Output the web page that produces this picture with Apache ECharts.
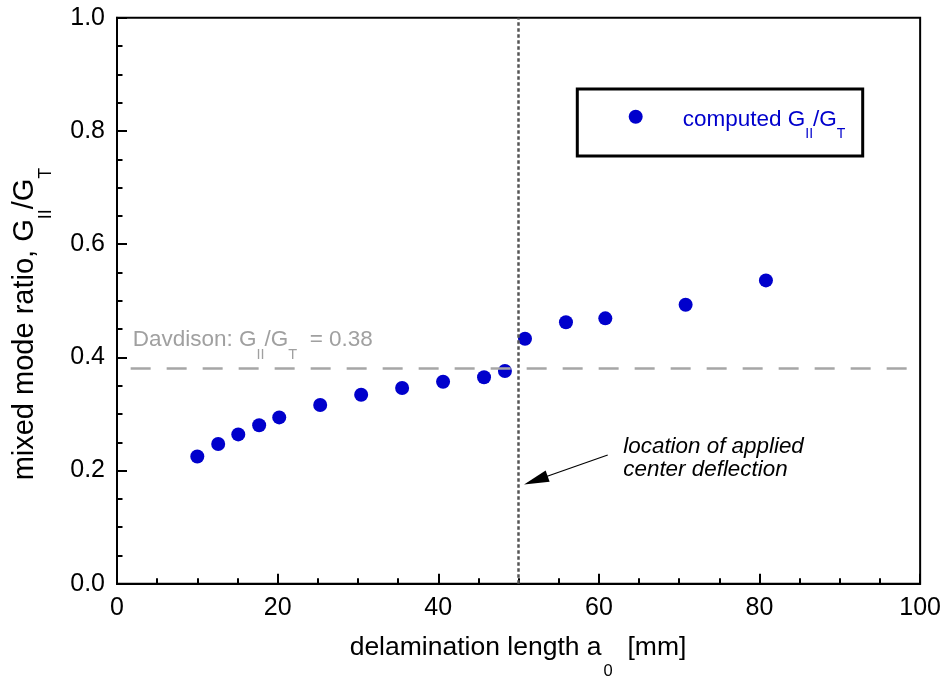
<!DOCTYPE html>
<html><head><meta charset="utf-8">
<script src="https://cdn.jsdelivr.net/npm/echarts@6/dist/echarts.min.js"></script>
<style>html,body{margin:0;padding:0;background:#fff}#c{width:944px;height:678px}</style>
</head><body><div id="c"></div>
<script>
// ---- data ----
const delaminationLength = [10.0, 12.6, 15.1, 17.7, 20.2, 25.3, 30.4, 35.5, 40.6, 45.7, 48.3, 50.8, 55.9, 60.8, 70.8, 80.8];
const modeRatio = [0.225, 0.247, 0.264, 0.280, 0.294, 0.316, 0.334, 0.346, 0.357, 0.365, 0.376, 0.433, 0.462, 0.469, 0.493, 0.536];
const davidsonRatio = 0.38;
const davidsonStartX = 1.7;
const appliedDeflectionX = 50;
const arrowStart = [61.1, 0.2276];
const arrowTip = [52.15, 0.1829];
const seriesName = 'computed';

const FONT = "'Liberation Sans', Arial, Helvetica, sans-serif";
const BLUE = '#0000CC';

const chart = echarts.init(document.getElementById('c'));
const points = delaminationLength.map((x, i) => [x, modeRatio[i]]);

const axisCommon = {
  type: 'value',
  axisLine: { show: true, lineStyle: { color: '#000', width: 2 } },
  axisTick: { show: true, inside: true, length: 10, lineStyle: { color: '#000', width: 2 } },
  minorTick: { show: true, splitNumber: 4, length: 5.5, lineStyle: { color: '#000', width: 2 } },
  splitLine: { show: false },
  minorSplitLine: { show: false },
  axisLabel: { fontSize: 25, color: '#000', fontFamily: FONT, margin: 12 }
};

chart.setOption({
  animation: false,
  backgroundColor: '#fff',
  grid: { left: 117, right: 22.5, top: 17.8, bottom: 94.2, show: true, borderColor: '#000', borderWidth: 2, backgroundColor: 'transparent' },
  xAxis: Object.assign({}, axisCommon, { min: 0, max: 100, interval: 20 }),
  yAxis: Object.assign({}, axisCommon, { min: 0, max: 1, interval: 0.2,
    axisLabel: Object.assign({}, axisCommon.axisLabel, { margin: 12, formatter: v => v.toFixed(1) }) }),
  series: [
    {
      type: 'line', name: 'refs', data: [], z: 1, silent: true,
      markLine: {
        silent: true, animation: false, symbol: ['none', 'none'], label: { show: false },
        data: [
          [{ coord: [davidsonStartX, davidsonRatio] }, { coord: [100, davidsonRatio] ,
            lineStyle: { color: '#a6a6a6', width: 2.5, type: [20, 16] } }],
          [{ xAxis: appliedDeflectionX, yAxis: 0 }, { xAxis: appliedDeflectionX, yAxis: 1,
            lineStyle: { color: '#555', width: 2.5, type: [3.5, 2.5] } }],
          [{ coord: arrowStart, symbol: 'none' }, { coord: arrowTip, symbol: 'triangle', symbolSize: [12, 25],
            lineStyle: { color: '#000', width: 1.2, type: 'solid' }, itemStyle: { color: '#000' } }]
        ]
      }
    },
    {
      type: 'scatter', name: seriesName, data: points, z: 3,
      symbol: 'circle', symbolSize: 14, itemStyle: { color: BLUE, opacity: 1 }
    }
  ],
  graphic: [
    { type: 'rect', z: 10, shape: { x: 577.3, y: 89, width: 285.4, height: 67 },
      style: { fill: '#fff', stroke: '#000', lineWidth: 3 } },
    { type: 'circle', z: 11, shape: { cx: 635.7, cy: 116.7, r: 7 }, style: { fill: BLUE } },
    { type: 'text', z: 11, x: 682.7, y: 120,
      style: { text: 'computed G{s|II}/G{s|T}', fontFamily: FONT, fontSize: 22.5, fill: BLUE,
        align: 'left', verticalAlign: 'middle',
        rich: { s: { fontFamily: FONT, fontSize: 14, fill: BLUE, padding: [29, 0, 0, 0] } } } },
    { type: 'text', z: 10, x: 518, y: 648,
      style: { text: 'delamination length a{s|0}  [mm]', fontFamily: FONT, fontSize: 26.5, fill: '#000',
        align: 'center', verticalAlign: 'middle',
        rich: { s: { fontFamily: FONT, fontSize: 16.5, fill: '#000', padding: [47, 0, 0, 2] } } } },
    { type: 'text', z: 10, x: 25, y: 324, rotation: Math.PI / 2,
      style: { text: 'mixed mode ratio, G{s|II}/G{s|T}', fontFamily: FONT, fontSize: 29, fill: '#000',
        align: 'center', verticalAlign: 'middle',
        rich: { s: { fontFamily: FONT, fontSize: 18, fill: '#000', padding: [42, 0, 0, 0] } } } },
    { type: 'text', z: 10, x: 132.7, y: 339.3,
      style: { text: 'Davdison: G{s|II}/G{s|T}  = 0.38', fontFamily: FONT, fontSize: 22.5, fill: '#a0a0a0',
        align: 'left', verticalAlign: 'middle',
        rich: { s: { fontFamily: FONT, fontSize: 14.5, fill: '#a0a0a0', padding: [31, 0, 0, 0] } } } },
    { type: 'text', z: 10, x: 623.3, y: 435.3,
      style: { text: 'location of applied\ncenter deflection', fontFamily: FONT, fontSize: 22.4, fontStyle: 'italic',
        lineHeight: 22.7, fill: '#000', align: 'left', verticalAlign: 'top' } }
  ]
});
</script>
</body></html>
